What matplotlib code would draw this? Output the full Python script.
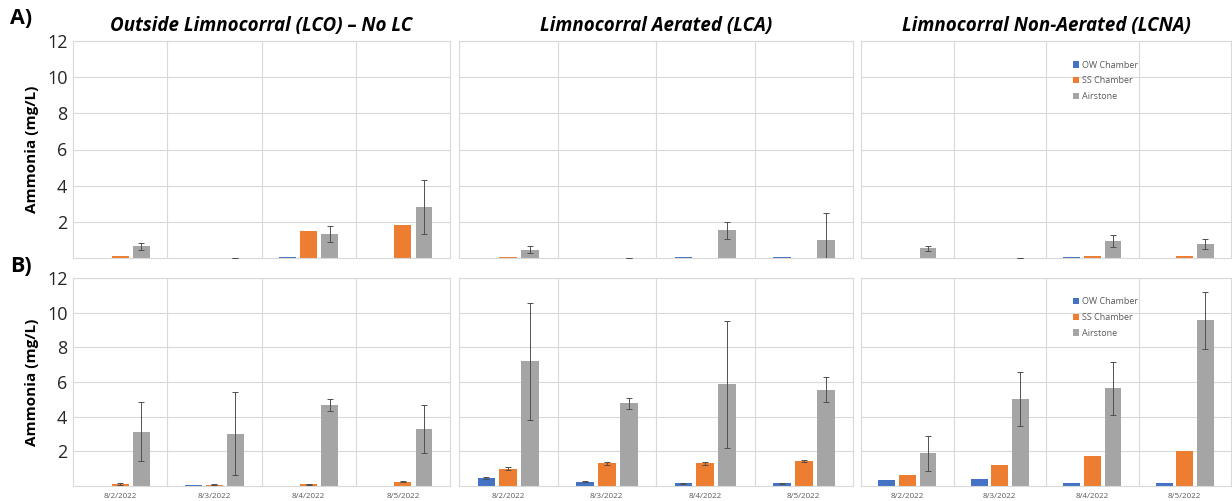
import numpy as np
import matplotlib.pyplot as plt

plt.rcParams['font.family'] = ['Open Sans', 'DejaVu Sans']

dates = ['8/2/2022', '8/3/2022', '8/4/2022', '8/5/2022']
titles = ['Outside Limnocorral (LCO) \u2013 No LC',
          'Limnocorral Aerated (LCA)',
          'Limnocorral Non-Aerated (LCNA)']
series = ['OW Chamber', 'SS Chamber', 'Airstone']
colors = ['#4472c4', '#ed7d31', '#a5a5a5']

# row A: one list per site (LCO, LCA, LCNA), values per date
a_ow = [[0.0, 0.0, 0.05, 0.0], [0.0, 0.0, 0.05, 0.05], [0.0, 0.0, 0.05, 0.0]]
a_ss = [[0.1, 0.0, 1.51, 1.81], [0.05, 0.0, 0.0, 0.0], [0.0, 0.0, 0.13, 0.13]]
a_air = [[0.65, 0.02, 1.33, 2.81], [0.46, 0.0, 1.53, 1.02], [0.53, 0.02, 0.92, 0.77]]
a_ow_err = [[0, 0, 0, 0], [0, 0, 0, 0], [0, 0, 0, 0]]
a_ss_err = [[0, 0, 0, 0], [0, 0, 0, 0], [0, 0, 0, 0]]
a_air_err = [[0.18, 0, 0.46, 1.5], [0.18, 0, 0.47, 1.49], [0.16, 0, 0.33, 0.28]]

# row B
b_ow = [[0.02, 0.05, 0.02, 0.02], [0.46, 0.25, 0.15, 0.15], [0.33, 0.42, 0.19, 0.19]]
b_ss = [[0.12, 0.08, 0.1, 0.25], [1.0, 1.32, 1.32, 1.44], [0.63, 1.22, 1.72, 2.03]]
b_air = [[3.14, 3.02, 4.66, 3.29], [7.2, 4.77, 5.86, 5.55], [1.88, 5.01, 5.65, 9.55]]
b_ow_err = [[0, 0, 0, 0], [0.05, 0.04, 0.05, 0.05], [0, 0, 0, 0]]
b_ss_err = [[0.05, 0.03, 0.04, 0.04], [0.08, 0.08, 0.08, 0.06], [0, 0, 0, 0]]
b_air_err = [[1.7, 2.38, 0.35, 1.36], [3.37, 0.3, 3.65, 0.72], [1.0, 1.57, 1.53, 1.67]]

W, H = 1232, 501
fig = plt.figure(figsize=(W / 100, H / 100), dpi=100)

# panel boxes in pixels: (left, right)
cols = [(73, 450), (459, 853), (861, 1231)]
rows = [(41, 258), (278, 486)]
grid_c = '#d9d9d9'
x = np.arange(len(dates))
offs = [-0.222, 0.0, 0.224]
bw = 0.18

for r, (top, bot) in enumerate(rows):
    vals = [a_ow, a_ss, a_air] if r == 0 else [b_ow, b_ss, b_air]
    errs = [a_ow_err, a_ss_err, a_air_err] if r == 0 else [b_ow_err, b_ss_err, b_air_err]
    for c, (left, right) in enumerate(cols):
        ax = fig.add_axes([left / W, 1 - bot / H, (right - left) / W, (bot - top) / H])
        for k in range(3):
            ax.bar(x + offs[k], vals[k][c], bw, color=colors[k], label=series[k],
                   edgecolor='none', zorder=2)
            e = np.array(errs[k][c])
            if e.any():
                ax.errorbar(x + offs[k], vals[k][c], yerr=e, fmt='none',
                            ecolor='#505050', elinewidth=0.7, capsize=2,
                            capthick=0.7, zorder=3)
        ax.set_xlim(-0.5, 3.5)
        ax.set_ylim(0, 12)
        ax.set_yticks([2, 4, 6, 8, 10, 12])
        ax.set_xticks([0.5, 1.5, 2.5], minor=False)
        ax.grid(True, color=grid_c, linewidth=0.8, zorder=0)
        ax.tick_params(length=0)
        for s in ax.spines.values():
            s.set_color(grid_c)
            s.set_linewidth(0.8)
        ax.set_xticklabels([])
        if r == 1:
            for i, d in enumerate(dates):
                ax.text(i, -0.035, d, transform=ax.get_xaxis_transform(),
                        ha='center', va='top', fontsize=5.8, color='#595959')
        if c == 0:
            ax.tick_params(axis='y', labelsize=13, pad=4, labelcolor='#262626')
            ax.set_ylabel('Ammonia (mg/L)', fontsize=11, fontweight='bold', labelpad=6)
        else:
            ax.set_yticklabels([])
        if r == 0:
            ax.set_title(titles[c], fontsize=13.5, fontweight='bold', style='italic', pad=7)
        if c == 2:
            leg = ax.legend(loc='upper left', bbox_to_anchor=(0.56, 0.93), frameon=False,
                            fontsize=6.5, handlelength=0.7, handleheight=0.7,
                            handletextpad=0.3, labelspacing=0.75, borderpad=0)
            for t in leg.get_texts():
                t.set_color('#595959')

fig.text(10 / W, 1 - 19 / H, 'A)', fontsize=15.5, fontweight='bold', va='center')
fig.text(10 / W, 1 - 267 / H, 'B)', fontsize=15.5, fontweight='bold', va='center')

fig.savefig('out.png', dpi=100, facecolor='white')
